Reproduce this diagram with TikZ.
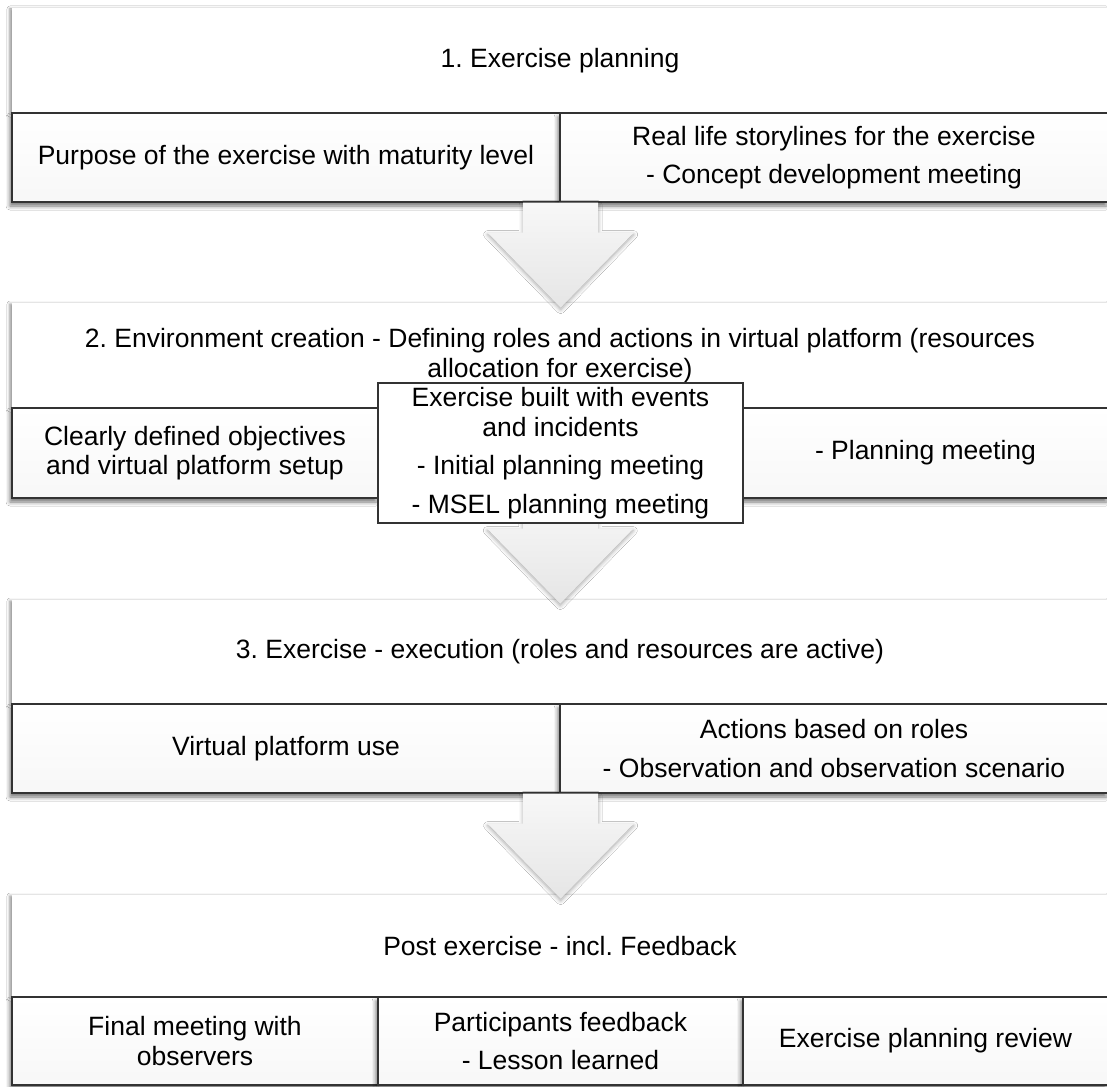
\documentclass[tikz,border=0pt]{standalone}
\usepackage{fontspec}
\setmainfont{Liberation Sans}
\usetikzlibrary{shadows.blur,calc}
\frenchspacing

\tikzset{
  txt/.style={font=\fontsize{26.5}{29.6}\selectfont, align=center, text=black, inner sep=0pt},
  headbox/.style={txt, fill=white, minimum width=1096pt,
    blur shadow={shadow xshift=-2pt, shadow yshift=-1pt, shadow blur radius=3pt, shadow opacity=45}},
  cellbox/.style={txt, draw=black!80, line width=1.3pt, top color=white, bottom color=black!3,
    minimum height=89pt,
    blur shadow={shadow xshift=-2pt, shadow yshift=-4pt, shadow blur radius=4pt, shadow opacity=55}},
  midbox/.style={txt, draw=black!80, line width=1.3pt, fill=white},
  arrowfill/.style={top color=black!3, bottom color=black!10, draw=none,
    blur shadow={shadow xshift=0pt, shadow yshift=-2pt, shadow blur radius=4pt, shadow opacity=35}},
  pics/flowarrow/.style={code={
    \path[arrowfill] (-37.5,0) -- (37.5,0) -- (37.5,30) -- (73,30) -- (0,105)
      -- (-73,30) -- (-37.5,30) -- cycle;
  }}
}

\begin{document}
\begin{tikzpicture}[x=1pt,y=-1pt]
\useasboundingbox (0,0) rectangle (1107,1086);
\fill[white] (0,0) rectangle (1107,1086);

% 1. Exercise planning
\node[headbox, minimum height=105pt] (h1) at (560,60.5) {1. Exercise planning};
\node[cellbox, minimum width=548pt] (c1a) at (286,157.5) {Purpose of the exercise with maturity level};
\node[cellbox, minimum width=548pt] (c1b) at (834,157.5) {Real life storylines for the exercise\\[9pt]- Concept development meeting};

% 2. Environment creation
\node[headbox, minimum height=105pt] (h2) at (560,355.5) {2. Environment creation - Defining roles and actions in virtual platform (resources\\allocation for exercise)};
\node[cellbox, minimum width=366pt, minimum height=90pt] (c2a) at (195,453) {Clearly defined objectives\\and virtual platform setup};
\node[cellbox, minimum width=365pt, minimum height=90pt] (c2c) at (925.5,453) {- Planning meeting};

% 3. Exercise execution
\node[headbox, minimum height=104pt] (h3) at (560,652) {3. Exercise - execution (roles and resources are active)};
\node[cellbox, minimum width=548pt] (c3a) at (286,748.5) {Virtual platform use};
\node[cellbox, minimum width=548pt] (c3b) at (834,748.5) {Actions based on roles\\[9pt]- Observation and observation scenario};

% 4. Post exercise
\node[headbox, minimum height=102pt] (h4) at (560,946) {Post exercise - incl. Feedback};
\node[cellbox, minimum width=366pt, minimum height=88pt] (c4a) at (195,1041) {Final meeting with\\observers};
\node[cellbox, minimum width=365pt, minimum height=88pt] (c4b) at (560.5,1041) {Participants feedback\\[9pt]- Lesson learned};
\node[cellbox, minimum width=365pt, minimum height=88pt] (c4c) at (925.5,1041) {Exercise planning review};

% block arrows between the stages
\pic at (c1a.south east) {flowarrow};
\pic at ($(c2a.south)!0.5!(c2c.south)$) {flowarrow};
\pic at (c3a.south east) {flowarrow};

% middle cell of stage 2, grown past its row
\node[midbox, minimum width=365pt, minimum height=140pt] (c2b) at (560.5,453) {Exercise built with events\\and incidents\\[9pt]- Initial planning meeting\\[9pt]- MSEL planning meeting};
\end{tikzpicture}
\end{document}
